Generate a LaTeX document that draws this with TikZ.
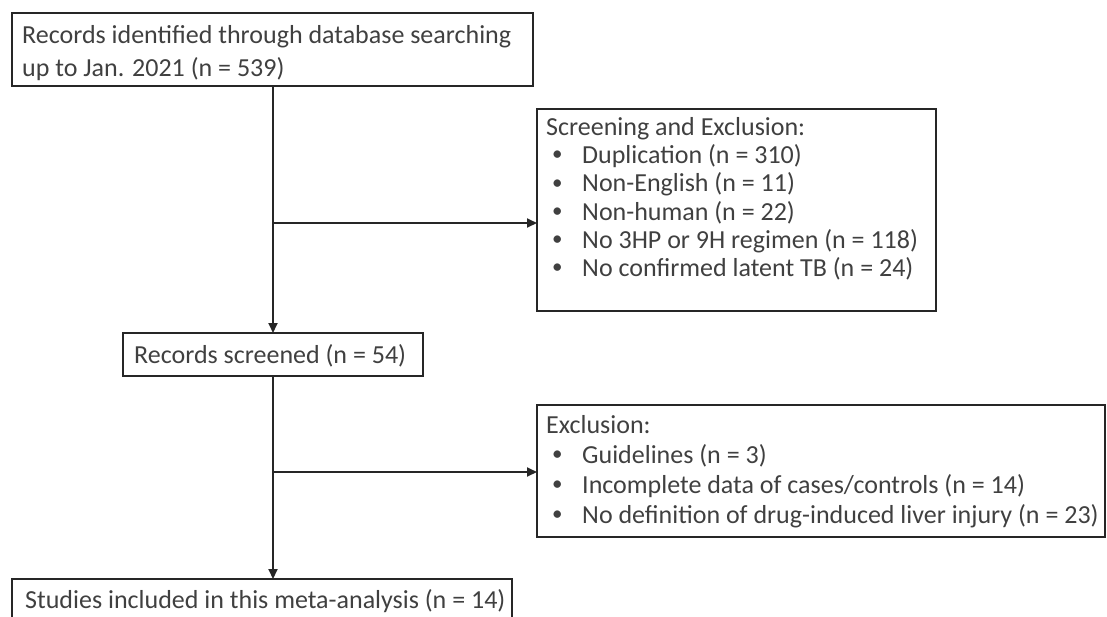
\documentclass[tikz,border=0pt]{standalone}
\usepackage{fontspec}
\setmainfont{Carlito}
\usetikzlibrary{arrows.meta}
\definecolor{linec}{HTML}{262626}
\definecolor{txtc}{HTML}{404040}
\newcommand{\smbul}{\raisebox{2.5pt}{\fontsize{21}{21}\selectfont •}}
\begin{document}
\begin{tikzpicture}[x=1pt,y=-1pt,
  box/.style={draw=linec, line width=1.8pt, anchor=north west, inner sep=0pt, outer sep=0pt},
  txt/.style={anchor=base west, inner sep=0pt, text=txtc, font=\fontsize{26}{28}\selectfont},
  conn/.style={draw=linec, line width=1.8pt},
  arr/.style={conn, -{Triangle[length=10pt,width=9pt]}}]
\useasboundingbox (0,0) rectangle (1107,616);
% boxes
\node[box, minimum width=521pt, minimum height=73pt] (b1) at (12,13) {};
\node[box, minimum width=300pt, minimum height=43pt] (rs) at (123,333) {};
\node[box, minimum width=399pt, minimum height=202pt] (sc) at (537,109) {};
\node[box, minimum width=568pt, minimum height=132pt] (ex) at (537,405) {};
\node[box, minimum width=500pt, minimum height=50pt] (fin) at (12,579) {};
% texts
\node[txt] (t1a) at (22,43) {Records identified through database searching};
\node[txt] (t1b) at (22,76) {up to Jan. 2021 (n = 539)};
\node[txt] (trs) at (134,363) {Records screened (n = 54)};
\node[txt] (tsc) at (546,135) {Screening and Exclusion:};
\foreach \i/\y/\t in {1/163/{Duplication (n = 310)}, 2/191.5/{Non-English (n = 11)}, 3/220/{Non-human (n = 22)}, 4/248/{No 3HP or 9H regimen (n = 118)}, 5/276/{No confirmed latent TB (n = 24)}}{
  \node[txt] (bs\i) at (552,\y) {\smbul};
  \node[txt] (ts\i) at (582,\y) {\t};
}
\node[txt] (tex) at (546,433) {Exclusion:};
\foreach \i/\y/\t in {1/463/{Guidelines (n = 3)}, 2/493/{Incomplete data of cases/controls (n = 14)}, 3/523/{No definition of drug-induced liver injury (n = 23)}}{
  \node[txt] (be\i) at (552,\y) {\smbul};
  \node[txt] (te\i) at (582,\y) {\t};
}
\node[txt] (tfin) at (25,608) {Studies included in this meta-analysis (n = 14)};
% connectors
\coordinate (j1) at (273,223);
\coordinate (j2) at (273,472);
\draw[arr] (b1.south -| rs.north) -- (rs.north);
\draw[arr] (j1) -- (sc.west |- j1);
\draw[arr] (rs.south) -- (fin.north -| rs.south);
\draw[arr] (j2) -- (ex.west |- j2);
\end{tikzpicture}
\end{document}
